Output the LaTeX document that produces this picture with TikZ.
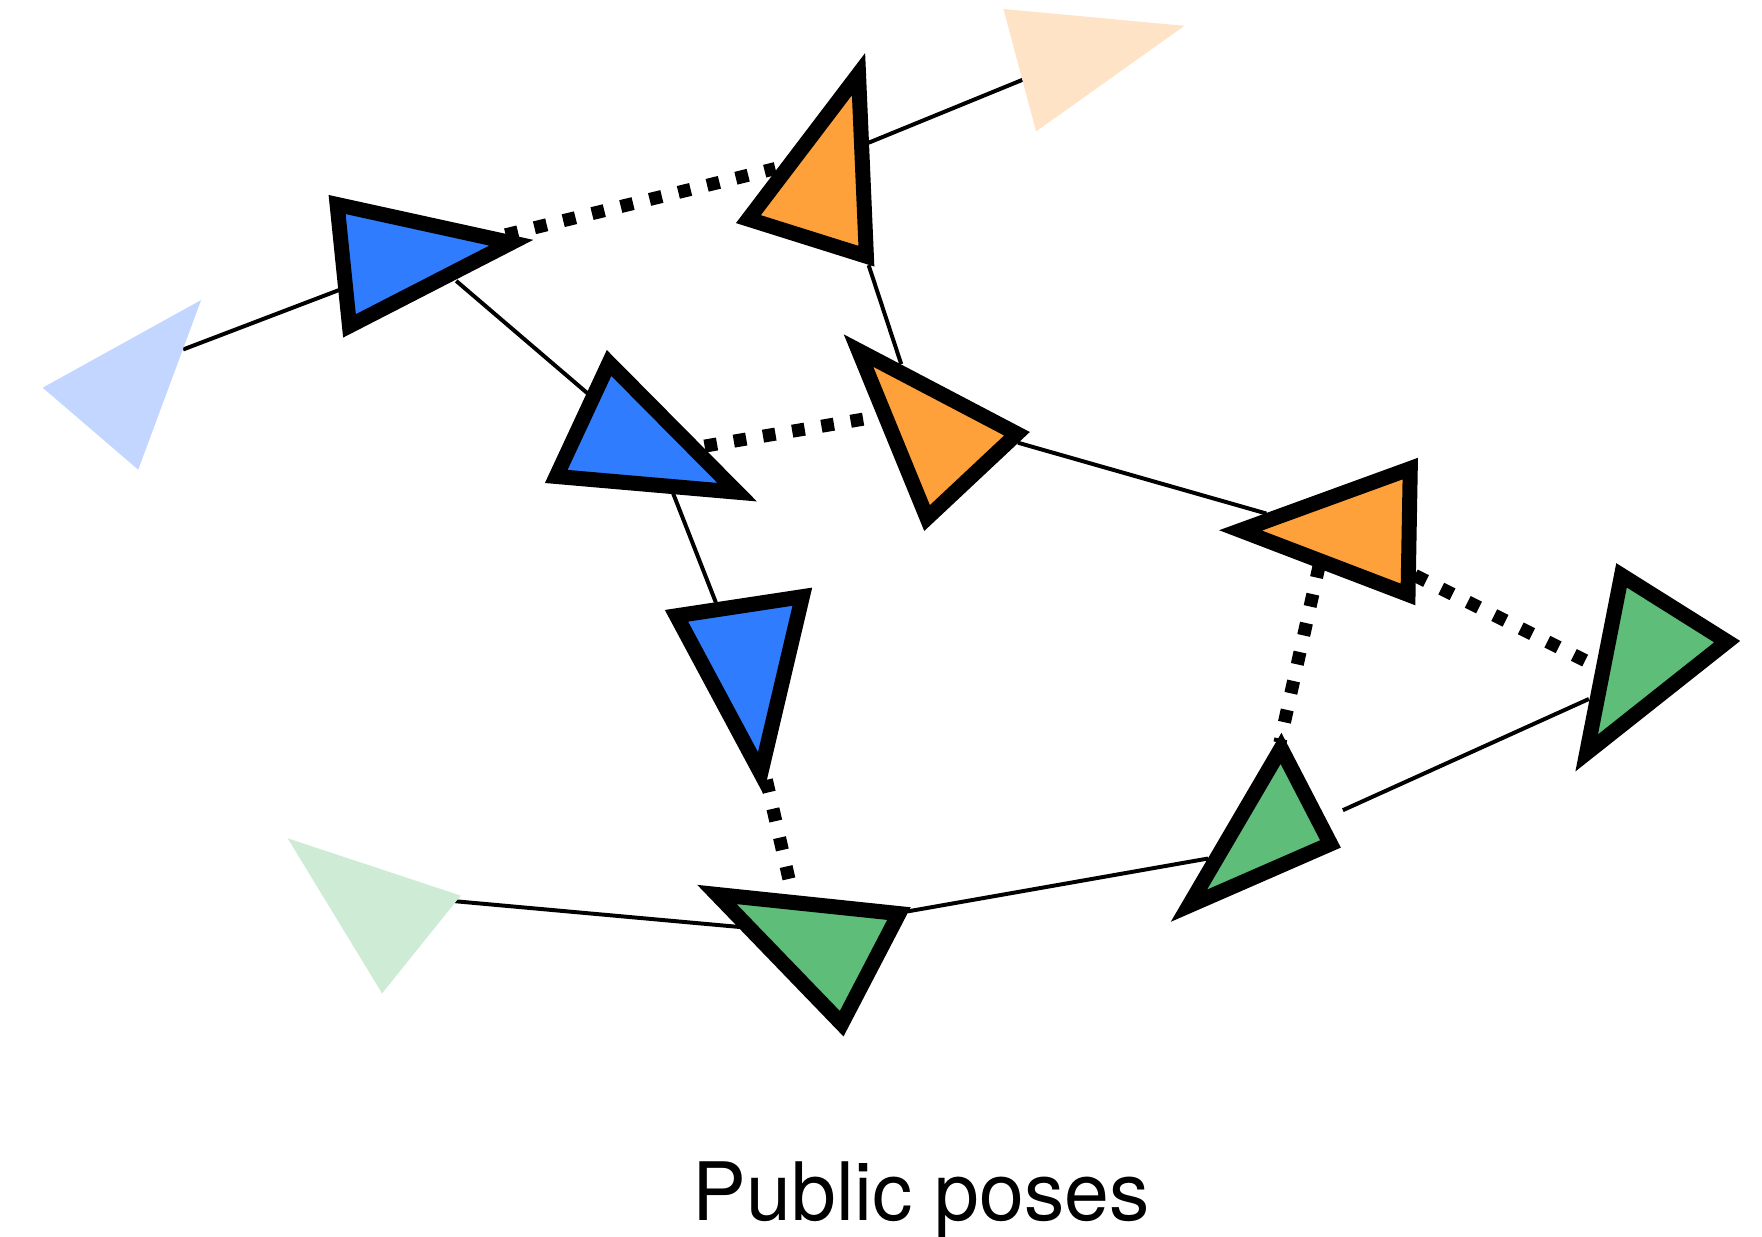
\documentclass[tikz,border=0pt]{standalone}
\usepackage{fontspec}
\setmainfont{TeX Gyre Heros}
\begin{document}
\begin{tikzpicture}[x=0.01cm, y=-0.01cm,
    pose/.style={draw=black, line width=3.8pt, line join=miter, miter limit=20},
    faded/.style={draw=none},
    link/.style={black, line width=1pt},
    loop/.style={black, line width=3.3pt, dash pattern=on 3.2pt off 4.3pt}]
  \definecolor{poseblue}{RGB}{48,124,255}
  \definecolor{poseorange}{RGB}{255,161,59}
  \definecolor{posegreen}{RGB}{94,189,120}
  \definecolor{fadeblue}{RGB}{194,214,255}
  \definecolor{fadeorange}{RGB}{255,227,198}
  \definecolor{fadegreen}{RGB}{206,235,214}
  \useasboundingbox (0,0) rectangle (1568,1100);

  % connector end points
  \coordinate (fb-e) at (163,311);   \coordinate (b1-w) at (302,258);
  \coordinate (b1-se) at (406,250);  \coordinate (b2-nw) at (524,351);
  \coordinate (b1-ne) at (450,209);  \coordinate (o1-w) at (690,150);
  \coordinate (o1-ne) at (773,127);  \coordinate (fo-w) at (910,71);
  \coordinate (o1-s) at (773,236);   \coordinate (o2-n) at (802,324);
  \coordinate (b2-e) at (627,397);   \coordinate (o2-w) at (780,371);
  \coordinate (o2-e) at (906,394);   \coordinate (o3-w) at (1127,457);
  \coordinate (b2-s) at (599,439);   \coordinate (b3-n) at (637,536);
  \coordinate (b3-s) at (682,694);   \coordinate (g1-n) at (705,795);
  \coordinate (fg-e) at (405,802);   \coordinate (g1-w) at (659,825);
  \coordinate (g1-e) at (808,811);   \coordinate (g2-w) at (1075,764);
  \coordinate (o3-s) at (1174,503);  \coordinate (g2-n) at (1139,661);
  \coordinate (o3-e) at (1259,512);  \coordinate (g3-w) at (1421,593);
  \coordinate (g2-e) at (1195,721);  \coordinate (g3-s) at (1414,622);

  % odometry links
  \draw[link] (fb-e) -- (b1-w);
  \draw[link] (b1-se) -- (b2-nw);
  \draw[link] (o1-ne) -- (fo-w);
  \draw[link] (o1-s) -- (o2-n);
  \draw[link] (o2-e) -- (o3-w);
  \draw[link] (b2-s) -- (b3-n);
  \draw[link] (fg-e) -- (g1-w);
  \draw[link] (g1-e) -- (g2-w);
  \draw[link] (g2-e) -- (g3-s);

  % loop closures
  \draw[loop] (b1-ne) -- (o1-w);
  \draw[loop] (b2-e) -- (o2-w);
  \draw[loop] (b3-s) -- (g1-n);
  \draw[loop] (o3-s) -- (g2-n);
  \draw[loop] (o3-e) -- (g3-w);

  % faded poses
  \fill[fadeblue]   (38,345) -- (179,267) -- (123,418) -- cycle;
  \fill[fadeorange] (893,8) -- (1054,23) -- (922,117) -- cycle;
  \fill[fadegreen]  (256,746) -- (410,797) -- (340,884) -- cycle;

  % blue poses
  \filldraw[pose, fill=poseblue] (300,182) -- (455,216) -- (311,290) -- cycle;
  \filldraw[pose, fill=poseblue] (542,323) -- (495,424) -- (656,438) -- cycle;
  \filldraw[pose, fill=poseblue] (714,531) -- (602,548) -- (677,688) -- cycle;

  % orange poses
  \filldraw[pose, fill=poseorange] (764,66) -- (666,195) -- (771,228) -- cycle;
  \filldraw[pose, fill=poseorange] (764,312) -- (905,386) -- (825,461) -- cycle;
  \filldraw[pose, fill=poseorange] (1255,417) -- (1104,472) -- (1253,529) -- cycle;

  % green poses
  \filldraw[pose, fill=posegreen] (638,796) -- (800,813) -- (749,911) -- cycle;
  \filldraw[pose, fill=posegreen] (1140,666) -- (1184,751) -- (1058,806) -- cycle;
  \filldraw[pose, fill=posegreen] (1443,512) -- (1537,571) -- (1412,670) -- cycle;

  \node[anchor=base, inner sep=0pt, font=\fontsize{20.4}{24}\selectfont] (caption) at (820,1086) {Public poses};
\end{tikzpicture}
\end{document}
